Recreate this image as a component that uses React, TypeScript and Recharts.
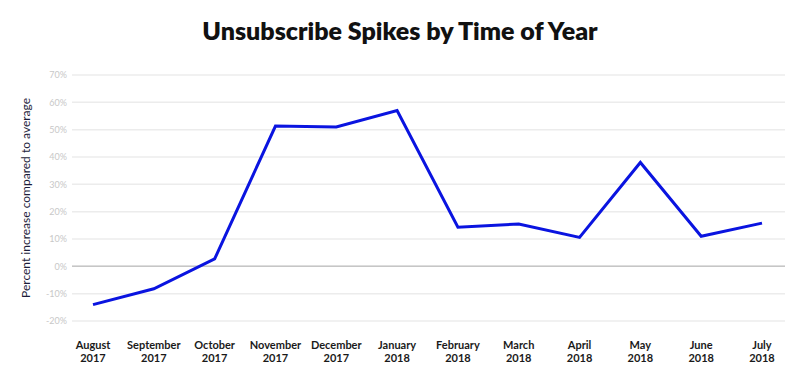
import { LineChart, Line, XAxis, YAxis, CartesianGrid, ReferenceLine } from 'recharts'

const months = [
	'August',
	'September',
	'October',
	'November',
	'December',
	'January',
	'February',
	'March',
	'April',
	'May',
	'June',
	'July',
]
const years = ['2017', '2017', '2017', '2017', '2017', '2018', '2018', '2018', '2018', '2018', '2018', '2018']
const increase = [-14, -8.2, 2.7, 51.3, 51, 57, 14.3, 15.5, 10.6, 38, 11, 15.8]
const yTicks = [-20, -10, 0, 10, 20, 30, 40, 50, 60, 70]

const data = months.map((m, i) => ({ month: m, year: years[i], value: increase[i] }))

function MonthTick(props: any) {
	const { x, y, index } = props
	return (
		<text x={x} y={y} textAnchor="middle" fill="#1a1a1a" fontSize={11} fontWeight={700} fontFamily="Lato">
			<tspan x={x} dy={28}>
				{months[index]}
			</tspan>
			<tspan x={x} dy={13}>
				{years[index]}
			</tspan>
		</text>
	)
}

export default function App() {
	return (
		<div style={{ position: 'absolute', left: 0, top: 0, width: 800, height: 390, background: '#fff' }}>
			<div
				style={{
					position: 'absolute',
					top: 15,
					left: 0,
					width: 800,
					textAlign: 'center',
					fontFamily: 'Lato',
					fontWeight: 800,
					fontSize: 25,
					color: '#111',
				}}
			>
				Unsubscribe Spikes by Time of Year
			</div>
			<LineChart width={800} height={390} data={data} margin={{ top: 75, right: 15, left: 0, bottom: 0 }}>
				<CartesianGrid vertical={false} stroke="#ececec" strokeWidth={1.5} />
				<ReferenceLine y={0} stroke="#c6c6c6" strokeWidth={1.5} />
				<XAxis
					dataKey="month"
					height={69}
					axisLine={false}
					tickLine={false}
					tickSize={0}
					tickMargin={0}
					interval={0}
					padding={{ left: 21, right: 23 }}
					tick={<MonthTick />}
				/>
				<YAxis
					width={72}
					domain={[-20, 70]}
					ticks={yTicks}
					interval={0}
					axisLine={false}
					tickLine={false}
					tickSize={0}
					tickMargin={5}
					tickFormatter={(v) => `${v}%`}
					tick={{ fill: '#c8c8c8', fontSize: 9, fontFamily: 'Lato' }}
					label={{
						value: 'Percent increase compared to average',
						angle: -90,
						position: 'center',
						dx: -10,
						fill: '#1c1c3a',
						fontSize: 12,
						fontFamily: 'Lato',
					}}
				/>
				<Line
					type="linear"
					dataKey="value"
					stroke="#0a14e0"
					strokeWidth={3}
					dot={false}
					activeDot={false}
					isAnimationActive={false}
				/>
			</LineChart>
		</div>
	)
}
